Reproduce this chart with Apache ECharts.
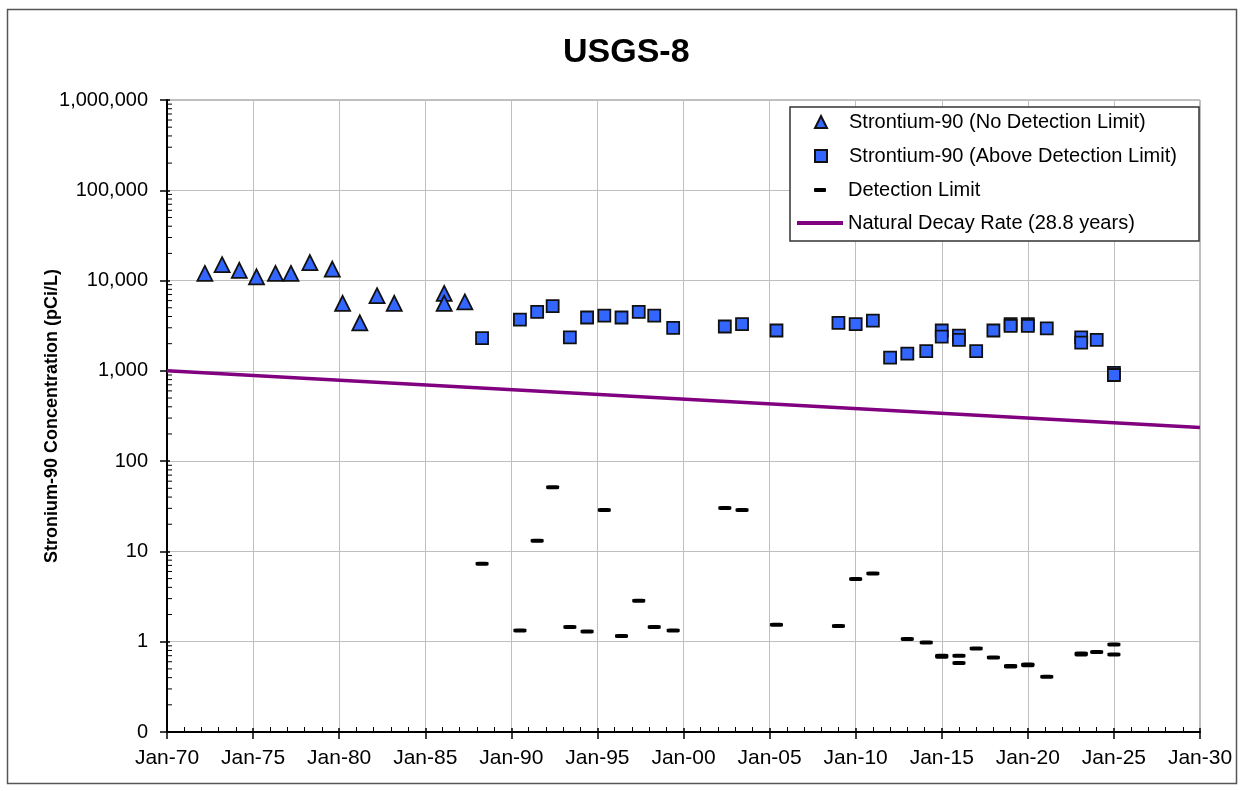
<!DOCTYPE html>
<html>
<head>
<meta charset="utf-8">
<title>USGS-8</title>
<script src="https://cdn.jsdelivr.net/npm/echarts@6/dist/echarts.min.js"></script>
<style>
  html, body { margin: 0; padding: 0; background: #fff; }
  #chart { width: 1244px; height: 791px; }
</style>
</head>
<body>
<div id="chart"></div>
<script>
// decimal years / pCi/L
const noLimitYears = [1972.2, 1973.2, 1974.2, 1975.2, 1976.3, 1977.2, 1978.3, 1979.6, 1980.2, 1981.2, 1982.2, 1983.2, 1986.1, 1986.1, 1987.3]
const noLimitValues = [12000, 15000, 13000, 11000, 12000, 12000, 15800, 13400, 5600, 3400, 6800, 5600, 7200, 5600, 5800]

const aboveYears = [1988.3, 1990.5, 1991.5, 1992.4, 1993.4, 1994.4, 1995.4, 1996.4, 1997.4, 1998.3, 1999.4, 2002.4, 2003.4, 2005.4,
  2009.0, 2010.0, 2011.0, 2012.0, 2013.0, 2014.1, 2015.0, 2015.0, 2016.0, 2016.0, 2017.0, 2018.0, 2019.0, 2019.0,
  2020.0, 2020.0, 2021.1, 2023.1, 2023.1, 2024.0, 2025.0, 2025.0]
const aboveValues = [2300, 3700, 4500, 5200, 2350, 3900, 4100, 3900, 4500, 4100, 3000, 3100, 3300, 2800,
  3400, 3300, 3600, 1400, 1550, 1650, 2800, 2400, 2450, 2200, 1650, 2800, 3300, 3150,
  3300, 3150, 2950, 2350, 2050, 2200, 950, 900]

const limitYears = [1988.3, 1990.5, 1991.5, 1992.4, 1993.4, 1994.4, 1995.4, 1996.4, 1997.4, 1998.3, 1999.4, 2002.4, 2003.4, 2005.4,
  2009.0, 2010.0, 2011.0, 2013.0, 2014.1, 2015.0, 2015.0, 2016.0, 2016.0, 2017.0, 2018.0, 2019.0, 2019.0,
  2020.0, 2020.0, 2021.1, 2023.1, 2023.1, 2024.0, 2025.0, 2025.0]
const limitValues = [7.3, 1.33, 13.1, 51.5, 1.46, 1.30, 28.7, 1.16, 2.84, 1.46, 1.33, 30.2, 28.7, 1.54,
  1.49, 4.94, 5.70, 1.07, 0.98, 0.70, 0.68, 0.70, 0.58, 0.84, 0.67, 0.53, 0.54,
  0.56, 0.55, 0.41, 0.74, 0.72, 0.77, 0.93, 0.72]

const decayYears = [1970, 2030]
const decayValues = [1000, 236]

const xMin = 1970
const xMax = 2030
const yMin = 0.1
const yMax = 1000000
// log minor ticks 2..9 x 10^k
const yMinorTicks = [0.2, 0.3, 0.4, 0.5, 0.6, 0.7, 0.8, 0.9,
  2, 3, 4, 5, 6, 7, 8, 9,
  20, 30, 40, 50, 60, 70, 80, 90,
  200, 300, 400, 500, 600, 700, 800, 900,
  2000, 3000, 4000, 5000, 6000, 7000, 8000, 9000,
  20000, 30000, 40000, 50000, 60000, 70000, 80000, 90000,
  200000, 300000, 400000, 500000, 600000, 700000, 800000, 900000]

const font = 'Arial, "Liberation Sans", sans-serif'
const blue = '#3366FF'
const edge = '#111111'

const zip = (xs, ys) => xs.map((x, i) => [x, ys[i]])

const chart = echarts.init(document.getElementById('chart'))

let option = {
  animation: false,
  backgroundColor: '#fff',
  textStyle: { fontFamily: font },
  title: {
    text: 'USGS-8',
    left: 563,
    top: 36,
    padding: 0,
    textStyle: { fontFamily: font, fontSize: 34, fontWeight: 'bold', color: '#000' }
  },
  graphic: [
    {
      type: 'rect', silent: true, z: -10,
      shape: { x: 7.5, y: 9.5, width: 1229, height: 774 },
      style: { fill: 'none', stroke: '#555', lineWidth: 1.5 }
    },
    {
      type: 'rect', silent: true, z: 3,
      shape: { x: 790, y: 107, width: 409, height: 134 },
      style: { fill: '#fff', stroke: '#333', lineWidth: 1.5 }
    }
  ],
  legend: [
    {
      orient: 'vertical', left: 814, top: 110, padding: 0,
      itemWidth: 12, itemHeight: 12, itemGap: 10, z: 5,
      data: ['Strontium-90 (No Detection Limit)', 'Strontium-90 (Above Detection Limit)'],
      textStyle: { fontFamily: font, fontSize: 20, color: '#000', lineHeight: 24, padding: [0, 0, 0, 17] }
    },
    {
      orient: 'vertical', left: 814, top: 178, padding: 0,
      itemWidth: 12, itemHeight: 4, z: 5,
      data: ['Detection Limit'],
      textStyle: { fontFamily: font, fontSize: 20, color: '#000', lineHeight: 24, padding: [0, 0, 0, 17] }
    },
    {
      orient: 'vertical', left: 797, top: 211, padding: 0,
      itemWidth: 46, itemHeight: 4, z: 5,
      icon: 'path://M0,0 H46 V4 H0 Z',
      data: ['Natural Decay Rate (28.8 years)'],
      textStyle: { fontFamily: font, fontSize: 20, color: '#000', lineHeight: 24 }
    }
  ],
  grid: {
    left: 167, right: 44, top: 100, bottom: 59,
    show: true, borderColor: '#808080', borderWidth: 1
  },
  xAxis: [
    {
      type: 'value', min: xMin, max: xMax, interval: 5,
      axisLine: { show: true, onZero: false, lineStyle: { color: '#000', width: 2 } },
      axisTick: { show: true, length: 7, lineStyle: { color: '#000', width: 1.5 } },
      minorTick: { show: false },
      splitLine: { show: true, lineStyle: { color: '#BFBFBF', width: 1 } },
      axisLabel: {
        margin: 16, fontSize: 21, color: '#000', fontFamily: font,
        formatter: v => 'Jan-' + String(Math.round(v) % 100).padStart(2, '0')
      }
    },
    {
      type: 'value', min: xMin, max: xMax, interval: 5, position: 'bottom',
      axisLine: { show: false, onZero: false },
      axisTick: { show: true, inside: true, length: 4, lineStyle: { color: '#000', width: 1.5 } },
      minorTick: { show: true, splitNumber: 5, length: 5, lineStyle: { color: '#000', width: 1 } },
      splitLine: { show: false },
      axisLabel: { show: false }
    }
  ],
  yAxis: [
    {
      type: 'log', logBase: 10, min: yMin, max: yMax,
      name: 'Stronium-90 Concentration (pCi/L)',
      nameLocation: 'middle', nameGap: 106, nameMoveOverlap: false,
      nameTextStyle: { fontFamily: font, fontSize: 18, fontWeight: 'bold', color: '#000' },
      axisLine: { show: true, onZero: false, lineStyle: { color: '#000', width: 2 } },
      axisTick: { show: true, length: 7, lineStyle: { color: '#000', width: 1.5 } },
      splitLine: { show: true, lineStyle: { color: '#BFBFBF', width: 1 } },
      axisLabel: {
        margin: 19, fontSize: 20, color: '#000', fontFamily: font,
        formatter: v => v < 1 ? '0' : Math.round(v).toLocaleString('en-US')
      }
    },
    {
      type: 'log', logBase: 10, min: yMin, max: yMax, position: 'left',
      axisLine: { show: false, onZero: false },
      axisTick: { show: true, inside: true, length: 3, lineStyle: { color: '#000', width: 1.5 } },
      splitLine: { show: false },
      axisLabel: { show: false }
    }
  ],
  series: [
    {
      name: 'Natural Decay Rate (28.8 years)',
      type: 'line',
      data: zip(decayYears, decayValues),
      symbol: 'none',
      showSymbol: false,
      lineStyle: { color: '#800080', width: 3.5 },
      itemStyle: { color: '#800080' },
      z: 2
    },
    {
      name: 'Strontium-90 (No Detection Limit)',
      type: 'scatter',
      symbol: 'triangle',
      symbolSize: 15,
      data: zip(noLimitYears, noLimitValues),
      itemStyle: { color: blue, borderColor: edge, borderWidth: 1.8, opacity: 1 },
      z: 4
    },
    {
      name: 'Strontium-90 (Above Detection Limit)',
      type: 'scatter',
      symbol: 'rect',
      symbolSize: 12,
      data: zip(aboveYears, aboveValues),
      itemStyle: { color: blue, borderColor: edge, borderWidth: 1.8, opacity: 1 },
      z: 4
    },
    {
      name: 'Detection Limit',
      type: 'scatter',
      symbol: 'roundRect',
      symbolSize: [13, 4],
      data: zip(limitYears, limitValues),
      itemStyle: { color: '#000', opacity: 1 },
      z: 4
    },
    {
      // minor log ticks on the y axis
      type: 'custom',
      silent: true,
      data: yMinorTicks.map(v => [xMin, v]),
      renderItem: (params, api) => {
        const p = api.coord([api.value(0), api.value(1)])
        return {
          type: 'line',
          shape: { x1: p[0], y1: p[1], x2: p[0] + 5, y2: p[1] },
          style: { stroke: '#000', lineWidth: 1 }
        }
      },
      z: 5
    }
  ]
}

chart.setOption(option)
</script>
</body>
</html>
